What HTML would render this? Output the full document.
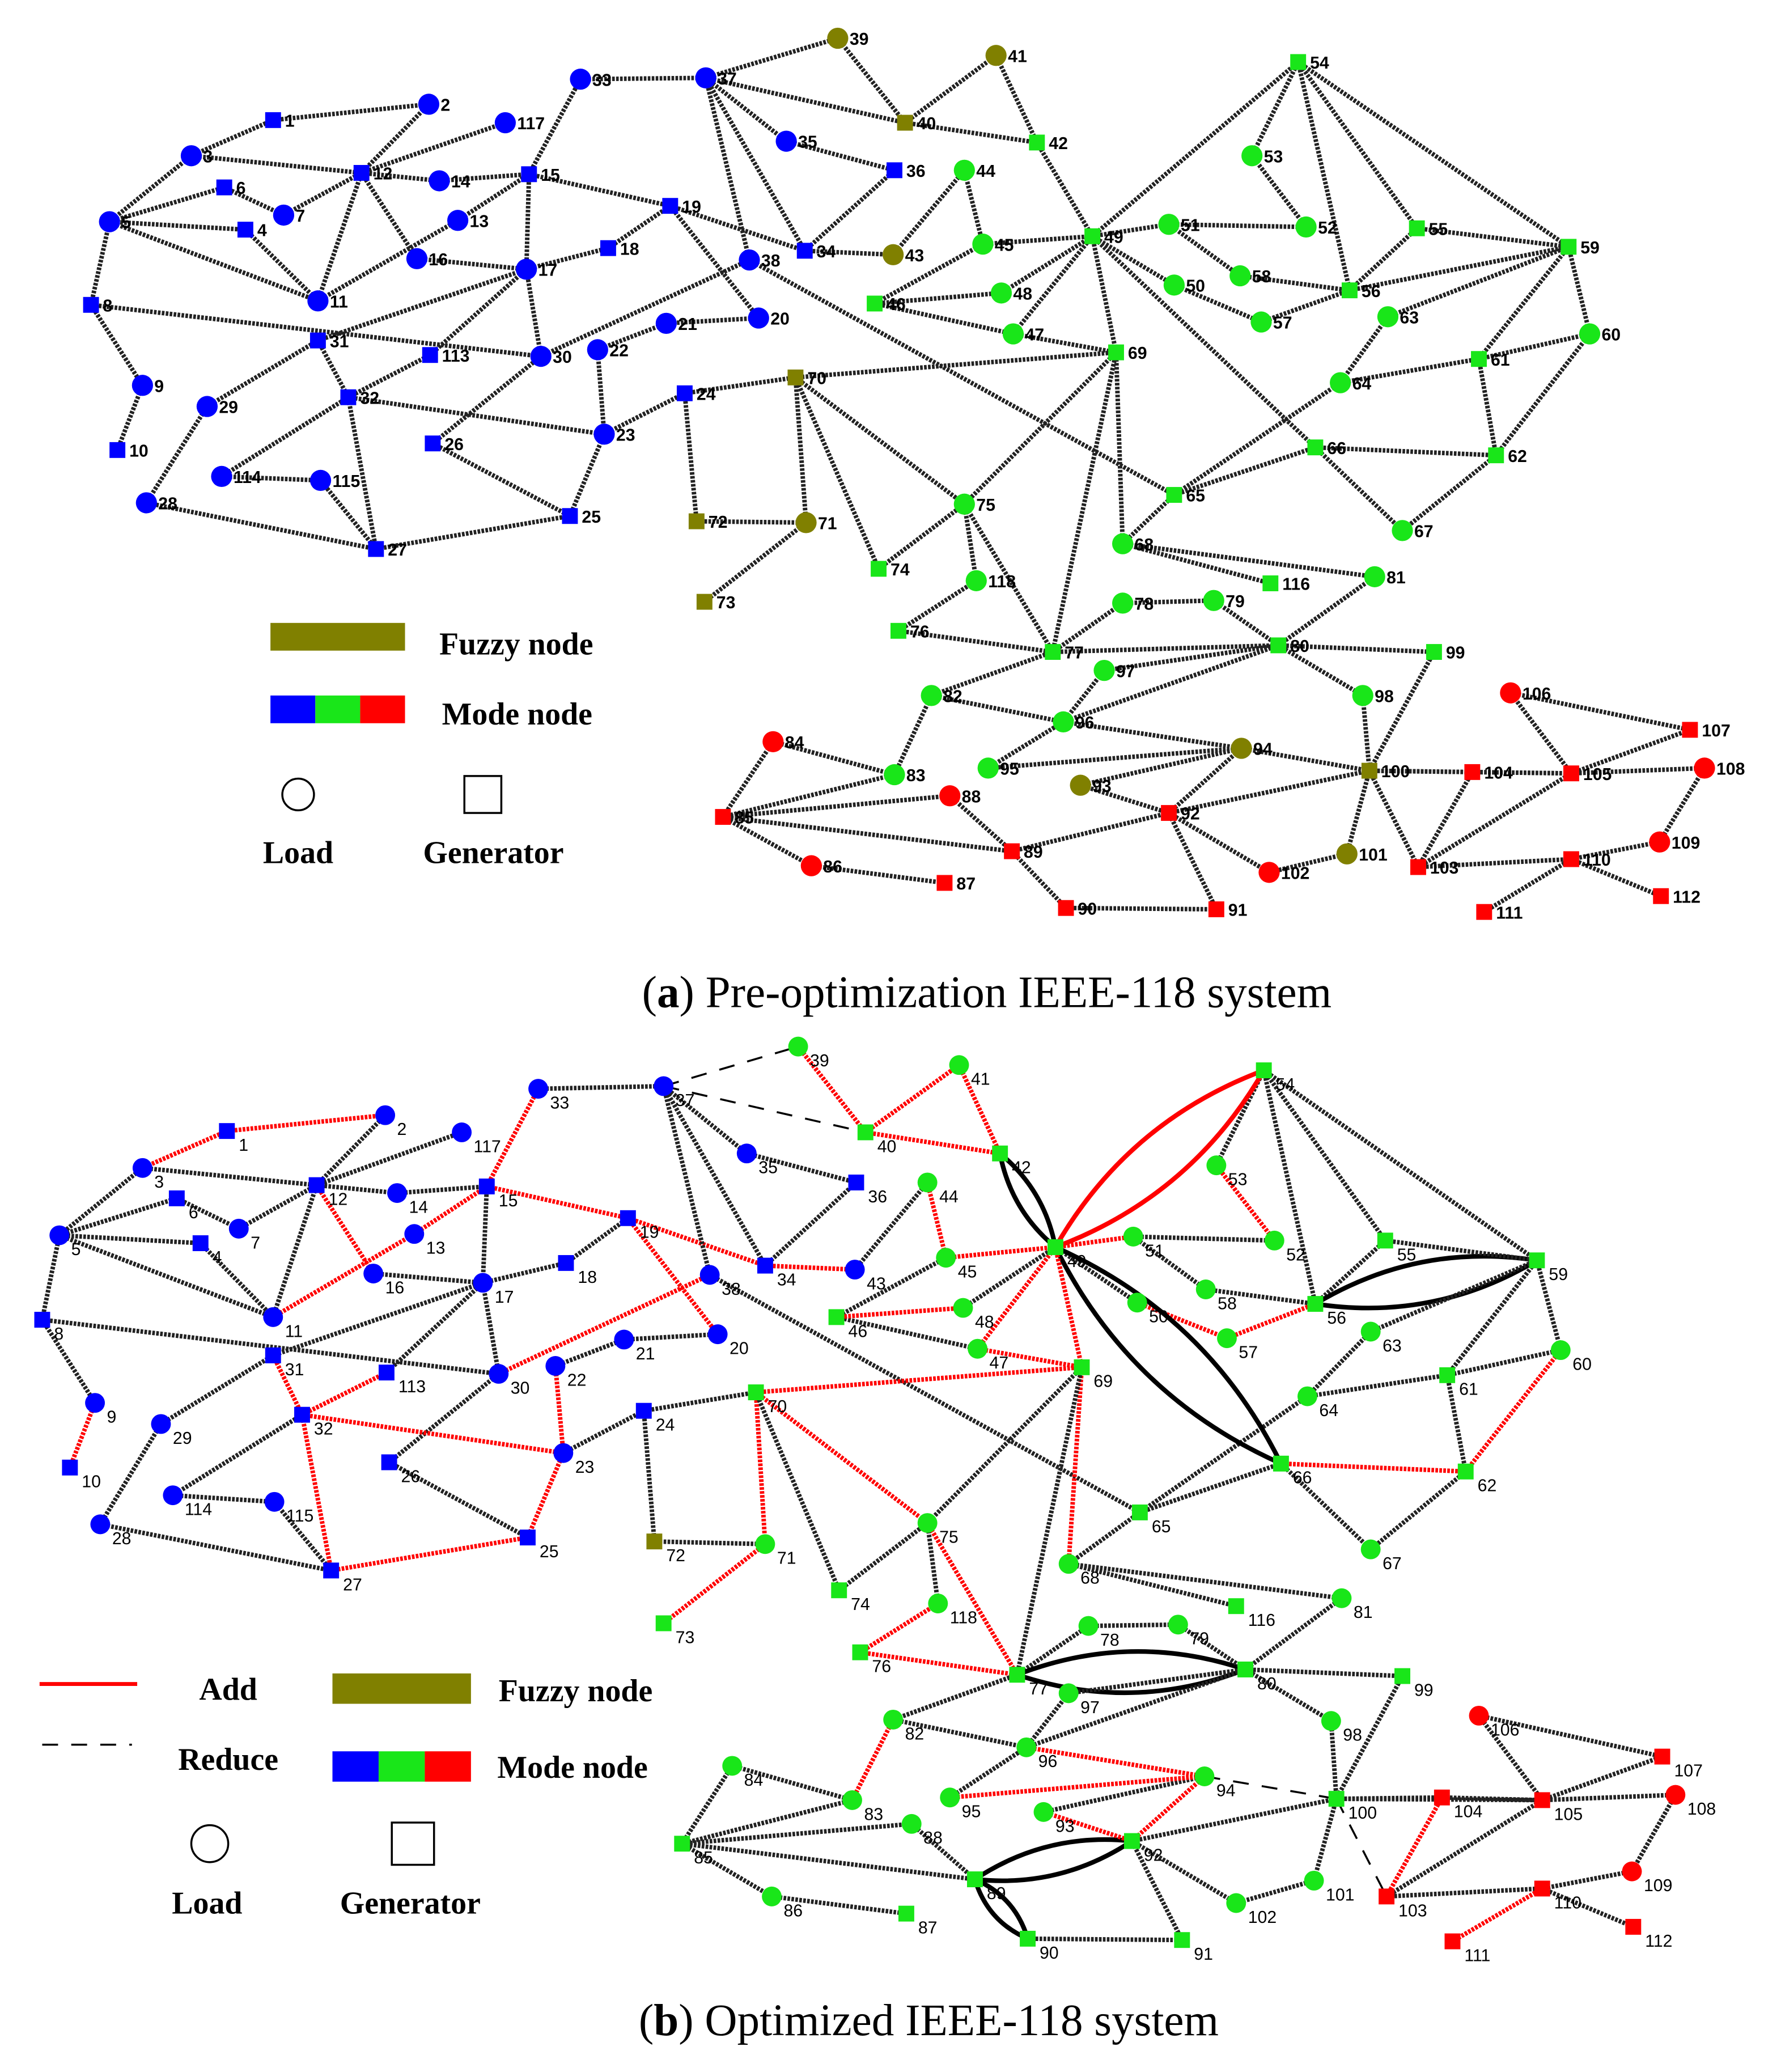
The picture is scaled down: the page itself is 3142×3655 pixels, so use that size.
<!DOCTYPE html>
<html><head><meta charset="utf-8"><style>
html,body{margin:0;padding:0;background:#fff;width:3142px;height:3655px;overflow:hidden}
svg{display:block}
text{font-family:"Liberation Sans",sans-serif}
.a{font-size:13px;font-weight:bold}
.b{font-size:13px}
.lg{font-family:"Liberation Serif",serif;font-size:24px;font-weight:bold}
.cap{font-family:"Liberation Serif",serif;font-size:34px}
</style></head><body>
<svg id="S" width="3142" height="3655" viewBox="0 0 1350 1570" preserveAspectRatio="none" xmlns="http://www.w3.org/2000/svg">
<g id="EA"></g><g id="EB"></g><g id="NA"></g><g id="NB"></g>
<g id="TA">
<text class="a sB" x="207" y="91">1</text><text class="a cB" x="325" y="79">2</text><text class="a cB" x="145" y="118">3</text><text class="a sB" x="186" y="174">4</text><text class="a cB" x="83" y="168">5</text><text class="a sB" x="170" y="142">6</text><text class="a cB" x="215" y="163">7</text><text class="a sB" x="69" y="231">8</text><text class="a cB" x="108" y="292">9</text><text class="a sB" x="89" y="341">10</text><text class="a cB" x="241" y="228">11</text><text class="a sB" x="274" y="131">12</text><text class="a cB" x="347" y="167">13</text><text class="a cB" x="333" y="137">14</text><text class="a sB" x="401" y="132">15</text><text class="a cB" x="316" y="196">16</text><text class="a cB" x="399" y="204">17</text><text class="a sB" x="461" y="188">18</text><text class="a sB" x="508" y="156">19</text><text class="a cB" x="575" y="241">20</text><text class="a cB" x="505" y="245">21</text><text class="a cB" x="453" y="265">22</text><text class="a cB" x="458" y="329">23</text><text class="a sB" x="519" y="298">24</text><text class="a sB" x="432" y="391">25</text><text class="a sB" x="328" y="336">26</text><text class="a sB" x="285" y="416">27</text><text class="a cB" x="111" y="381">28</text><text class="a cB" x="157" y="308">29</text><text class="a cB" x="410" y="270">30</text><text class="a sB" x="241" y="258">31</text><text class="a sB" x="264" y="301">32</text><text class="a cB" x="440" y="60">33</text><text class="a sB" x="610" y="190">34</text><text class="a cB" x="596" y="107">35</text><text class="a sB" x="678" y="129">36</text><text class="a cB" x="535" y="59">37</text><text class="a cB" x="568" y="197">38</text><text class="a cO" x="635" y="29">39</text><text class="a sO" x="686" y="93">40</text><text class="a cO" x="755" y="42">41</text><text class="a sG" x="786" y="108">42</text><text class="a cO" x="677" y="193">43</text><text class="a cG" x="731" y="129">44</text><text class="a cG" x="745" y="185">45</text><text class="a sG" x="663" y="230">46</text><text class="a cG" x="768" y="253">47</text><text class="a cG" x="759" y="222">48</text><text class="a sG" x="828" y="179">49</text><text class="a cG" x="890" y="216">50</text><text class="a cG" x="886" y="170">51</text><text class="a cG" x="990" y="172">52</text><text class="a cG" x="949" y="118">53</text><text class="a sG" x="984" y="47">54</text><text class="a sG" x="1074" y="173">55</text><text class="a sG" x="1023" y="220">56</text><text class="a cG" x="956" y="244">57</text><text class="a cG" x="940" y="209">58</text><text class="a sG" x="1189" y="187">59</text><text class="a cG" x="1205" y="253">60</text><text class="a sG" x="1121" y="272">61</text><text class="a sG" x="1134" y="345">62</text><text class="a cG" x="1052" y="240">63</text><text class="a cG" x="1016" y="290">64</text><text class="a sG" x="890" y="375">65</text><text class="a sG" x="997" y="339">66</text><text class="a cG" x="1063" y="402">67</text><text class="a cG" x="851" y="412">68</text><text class="a sG" x="846" y="267">69</text><text class="a sO" x="603" y="286">70</text><text class="a cO" x="611" y="396">71</text><text class="a sO" x="528" y="395">72</text><text class="a sO" x="534" y="456">73</text><text class="a sG" x="666" y="431">74</text><text class="a cG" x="731" y="382">75</text><text class="a sG" x="681" y="478">76</text><text class="a sG" x="798" y="494">77</text><text class="a cG" x="851" y="457">78</text><text class="a cG" x="920" y="455">79</text><text class="a sG" x="969" y="489">80</text><text class="a cG" x="1042" y="437">81</text><text class="a cG" x="706" y="527">82</text><text class="a cG" x="678" y="587">83</text><text class="a cR" x="586" y="562">84</text><text class="a sR" x="548" y="619">85</text><text class="a cR" x="615" y="656">86</text><text class="a sR" x="716" y="669">87</text><text class="a cR" x="720" y="603">88</text><text class="a sR" x="767" y="645">89</text><text class="a sR" x="808" y="688">90</text><text class="a sR" x="922" y="689">91</text><text class="a sR" x="886" y="616">92</text><text class="a cO" x="819" y="595">93</text><text class="a cO" x="941" y="567">94</text><text class="a cG" x="749" y="582">95</text><text class="a cG" x="806" y="547">96</text><text class="a cG" x="837" y="508">97</text><text class="a cG" x="1033" y="527">98</text><text class="a sG" x="1087" y="494">99</text><text class="a sO" x="1038" y="584">100</text><text class="a cO" x="1021" y="647">101</text><text class="a cR" x="962" y="661">102</text><text class="a sR" x="1075" y="657">103</text><text class="a sR" x="1116" y="585">104</text><text class="a sR" x="1191" y="586">105</text><text class="a cR" x="1145" y="525">106</text><text class="a sR" x="1281" y="553">107</text><text class="a cR" x="1292" y="582">108</text><text class="a cR" x="1258" y="638">109</text><text class="a sR" x="1191" y="651">110</text><text class="a sR" x="1125" y="691">111</text><text class="a sR" x="1259" y="679">112</text><text class="a sB" x="326" y="269">113</text><text class="a cB" x="168" y="361">114</text><text class="a cB" x="243" y="364">115</text><text class="a sG" x="963" y="442">116</text><text class="a cB" x="383" y="93">117</text><text class="a cG" x="740" y="440">118</text>
</g>
<g id="TB">
<text class="b sB" x="172" y="857">1</text><text class="b cB" x="292" y="845">2</text><text class="b cB" x="108" y="885">3</text><text class="b sB" x="152" y="942">4</text><text class="b cB" x="45" y="936">5</text><text class="b sB" x="134" y="908">6</text><text class="b cB" x="181" y="931">7</text><text class="b sB" x="32" y="1000">8</text><text class="b cB" x="72" y="1063">9</text><text class="b sB" x="53" y="1112">10</text><text class="b cB" x="207" y="998">11</text><text class="b sB" x="240" y="898">12</text><text class="b cB" x="314" y="935">13</text><text class="b cB" x="301" y="904">14</text><text class="b sB" x="369" y="899">15</text><text class="b cB" x="283" y="965">16</text><text class="b cB" x="366" y="972">17</text><text class="b sB" x="429" y="957">18</text><text class="b sB" x="476" y="923">19</text><text class="b cB" x="544" y="1011">20</text><text class="b cB" x="473" y="1015">21</text><text class="b cB" x="421" y="1035">22</text><text class="b cB" x="427" y="1101">23</text><text class="b sB" x="488" y="1069">24</text><text class="b sB" x="400" y="1165">25</text><text class="b sB" x="295" y="1108">26</text><text class="b sB" x="251" y="1190">27</text><text class="b cB" x="76" y="1155">28</text><text class="b cB" x="122" y="1079">29</text><text class="b cB" x="378" y="1041">30</text><text class="b sB" x="207" y="1027">31</text><text class="b sB" x="229" y="1072">32</text><text class="b cB" x="408" y="825">33</text><text class="b sB" x="580" y="959">34</text><text class="b cB" x="566" y="874">35</text><text class="b sB" x="649" y="896">36</text><text class="b cB" x="503" y="823">37</text><text class="b cB" x="538" y="966">38</text><text class="b cG" x="605" y="793">39</text><text class="b sG" x="656" y="858">40</text><text class="b cG" x="727" y="807">41</text><text class="b sG" x="758" y="874">42</text><text class="b cB" x="648" y="962">43</text><text class="b cG" x="703" y="896">44</text><text class="b cG" x="717" y="953">45</text><text class="b sG" x="634" y="998">46</text><text class="b cG" x="741" y="1022">47</text><text class="b cG" x="730" y="991">48</text><text class="b sG" x="800" y="945">49</text><text class="b cG" x="862" y="987">50</text><text class="b cG" x="859" y="937">51</text><text class="b cG" x="966" y="940">52</text><text class="b cG" x="922" y="883">53</text><text class="b sG" x="958" y="811">54</text><text class="b sG" x="1050" y="940">55</text><text class="b sG" x="997" y="988">56</text><text class="b cG" x="930" y="1014">57</text><text class="b cG" x="914" y="977">58</text><text class="b sG" x="1165" y="955">59</text><text class="b cG" x="1183" y="1023">60</text><text class="b sG" x="1097" y="1042">61</text><text class="b sG" x="1111" y="1115">62</text><text class="b cG" x="1039" y="1009">63</text><text class="b cG" x="991" y="1058">64</text><text class="b sG" x="864" y="1146">65</text><text class="b sG" x="971" y="1109">66</text><text class="b cG" x="1039" y="1174">67</text><text class="b cG" x="810" y="1185">68</text><text class="b sG" x="820" y="1036">69</text><text class="b sG" x="573" y="1055">70</text><text class="b cG" x="580" y="1170">71</text><text class="b sO" x="496" y="1168">72</text><text class="b sG" x="503" y="1230">73</text><text class="b sG" x="636" y="1205">74</text><text class="b cG" x="703" y="1154">75</text><text class="b sG" x="652" y="1252">76</text><text class="b sG" x="771" y="1269">77</text><text class="b cG" x="825" y="1232">78</text><text class="b cG" x="893" y="1231">79</text><text class="b sG" x="944" y="1265">80</text><text class="b cG" x="1017" y="1211">81</text><text class="b cG" x="677" y="1303">82</text><text class="b cG" x="646" y="1364">83</text><text class="b cG" x="555" y="1338">84</text><text class="b sG" x="517" y="1397">85</text><text class="b cG" x="585" y="1437">86</text><text class="b sG" x="687" y="1450">87</text><text class="b cG" x="691" y="1382">88</text><text class="b sG" x="739" y="1424">89</text><text class="b sG" x="779" y="1469">90</text><text class="b sG" x="896" y="1470">91</text><text class="b sG" x="858" y="1395">92</text><text class="b cG" x="791" y="1373">93</text><text class="b cG" x="913" y="1346">94</text><text class="b cG" x="720" y="1362">95</text><text class="b cG" x="778" y="1324">96</text><text class="b cG" x="810" y="1283">97</text><text class="b cG" x="1009" y="1304">98</text><text class="b sG" x="1063" y="1270">99</text><text class="b sG" x="1013" y="1363">100</text><text class="b cG" x="996" y="1425">101</text><text class="b cG" x="937" y="1442">102</text><text class="b sR" x="1051" y="1437">103</text><text class="b sR" x="1093" y="1362">104</text><text class="b sR" x="1169" y="1364">105</text><text class="b cR" x="1121" y="1300">106</text><text class="b sR" x="1260" y="1331">107</text><text class="b cR" x="1270" y="1360">108</text><text class="b cR" x="1237" y="1418">109</text><text class="b sR" x="1169" y="1431">110</text><text class="b sR" x="1101" y="1471">111</text><text class="b sR" x="1238" y="1460">112</text><text class="b sB" x="293" y="1040">113</text><text class="b cB" x="131" y="1133">114</text><text class="b cB" x="208" y="1138">115</text><text class="b sG" x="937" y="1217">116</text><text class="b cB" x="350" y="858">117</text><text class="b cG" x="711" y="1215">118</text>
</g>
<rect x="205" y="472" width="102" height="21" fill="#808000"/>
<text class="lg" x="333" y="496">Fuzzy node</text>
<rect x="205" y="527" width="34" height="21" fill="#0000ff"/><rect x="239" y="527" width="34" height="21" fill="#19e619"/><rect x="273" y="527" width="34" height="21" fill="#ff0000"/>
<text class="lg" x="335" y="549">Mode node</text>
<circle cx="226" cy="602" r="12" fill="none" stroke="#000" stroke-width="1.5"/>
<rect x="352" y="588" width="28" height="28" fill="none" stroke="#000" stroke-width="1.5"/>
<text class="lg" x="226" y="654" text-anchor="middle">Load</text>
<text class="lg" x="374" y="654" text-anchor="middle">Generator</text>
<text class="cap" x="748" y="763" text-anchor="middle">(<tspan font-weight="bold">a</tspan>) Pre-optimization IEEE-118 system</text>
<line x1="30" y1="1276" x2="104" y2="1276" stroke="#ff0000" stroke-width="3"/>
<text class="lg" x="173" y="1288" text-anchor="middle">Add</text>
<line x1="32" y1="1322" x2="100" y2="1322" stroke="#000" stroke-width="1.5" stroke-dasharray="12 10"/>
<text class="lg" x="173" y="1341" text-anchor="middle">Reduce</text>
<rect x="252" y="1268" width="105" height="23" fill="#808000"/>
<text class="lg" x="378" y="1289">Fuzzy node</text>
<rect x="252" y="1327" width="35" height="23" fill="#0000ff"/><rect x="287" y="1327" width="35" height="23" fill="#19e619"/><rect x="322" y="1327" width="35" height="23" fill="#ff0000"/>
<text class="lg" x="377" y="1347">Mode node</text>
<circle cx="159" cy="1397" r="14" fill="none" stroke="#000" stroke-width="1.5"/>
<rect x="297" y="1381" width="32" height="32" fill="none" stroke="#000" stroke-width="1.5"/>
<text class="lg" x="157" y="1450" text-anchor="middle">Load</text>
<text class="lg" x="311" y="1450" text-anchor="middle">Generator</text>
<text class="cap" x="704" y="1542" text-anchor="middle">(<tspan font-weight="bold">b</tspan>) Optimized IEEE-118 system</text>
</svg>
<script>
var NS="http://www.w3.org/2000/svg";
var COL={B:"#0000ff",G:"#19e619",R:"#ff0000",O:"#808000"};
var E="1-2 1-3 4-5 3-5 5-6 6-7 8-9 8-5 9-10 4-11 5-11 11-12 2-12 3-12 7-12 11-13 12-14 13-15 14-15 12-16 15-17 16-17 17-18 18-19 19-20 15-19 20-21 21-22 22-23 23-24 23-25 26-25 25-27 27-28 28-29 30-17 8-30 26-30 17-31 29-31 23-32 31-32 27-32 15-33 19-34 35-36 35-37 33-37 34-36 34-37 38-37 37-39 37-40 30-38 39-40 40-41 40-42 41-42 43-44 34-43 44-45 45-46 46-47 46-48 47-49 42-49 45-49 48-49 49-50 49-51 51-52 52-53 53-54 49-54 54-55 54-56 55-56 56-57 50-57 56-58 51-58 54-59 56-59 55-59 59-60 59-61 60-61 60-62 61-62 63-59 63-64 64-61 38-65 64-65 49-66 62-66 62-67 65-66 66-67 65-68 47-69 49-69 68-69 69-70 24-70 70-71 24-72 71-72 71-73 70-74 70-75 69-75 74-75 76-77 69-77 75-77 77-78 78-79 77-80 79-80 68-81 81-80 77-82 82-83 83-84 83-85 84-85 85-86 86-87 85-88 85-89 88-89 89-90 90-91 89-92 91-92 92-93 92-94 93-94 94-95 80-96 82-96 94-96 80-97 80-98 80-99 92-100 94-100 95-96 96-97 98-100 99-100 100-101 92-102 101-102 100-103 100-104 103-104 103-105 100-105 104-105 105-106 105-107 105-108 106-107 108-109 103-110 109-110 110-111 110-112 17-113 32-113 32-114 27-115 114-115 68-116 12-117 75-118 76-118".split(" ");
var RED=" 1-2 1-3 9-10 12-16 11-13 13-15 15-33 15-19 19-20 19-34 17-30 30-38 22-23 23-25 25-27 27-32 31-32 23-32 32-113 39-40 40-41 41-42 40-42 44-45 46-48 47-49 47-69 49-51 52-53 56-57 50-57 70-71 71-73 70-75 69-70 68-69 75-77 76-118 76-77 80-81 82-83 92-93 94-95 92-94 94-96 103-104 110-111 60-62 62-66 34-43 45-49 49-69 ";
var THICK=" 42-49 49-66 56-59 77-80 89-92 89-90 ";
var DASH=" 37-39 37-40 94-100 100-103 ";
function el(t,a,p){var e=document.createElementNS(NS,t);for(var k in a)e.setAttribute(k,a[k]);p.appendChild(e);return e;}
function build(tg,eg,ng,isB){
 var P={};var ts=document.getElementById(tg).getElementsByTagName("text");
 for(var i=0;i<ts.length;i++){var t=ts[i];var x=+t.getAttribute("x"),y=+t.getAttribute("y");var c=t.getAttribute("class").split(" ")[1];P[t.textContent]=[x,y];
  var f=COL[c[1]];var g=document.getElementById(ng);
  if(c[0]=="c")el("circle",{cx:x,cy:y,r:isB?7.5:8,fill:f},g);else el("rect",{x:x-6,y:y-6,width:12,height:12,fill:f},g);
  if(isB){t.setAttribute("x",x+9);t.setAttribute("y",y+15);}else{t.setAttribute("x",x+9);t.setAttribute("y",y+5);}}
 var g=document.getElementById(eg);var done={};
 E.forEach(function(s){var ab=s.split("-");var A=P[ab[0]],B=P[ab[1]];if(!A||!B)return;
  if(!isB){el("line",{x1:A[0],y1:A[1],x2:B[0],y2:B[1],stroke:"#222","stroke-width":3.4,"stroke-dasharray":"2 1"},g);return;}
  var k=" "+s+" ";
  if(THICK.indexOf(k)>=0||s=="49-54"){if(done[s])return;done[s]=1;
   var dx=B[0]-A[0],dy=B[1]-A[1],L=Math.sqrt(dx*dx+dy*dy),nx=-dy/L,ny=dx/L,o=Math.max(0.18*L,14);
   var mx=(A[0]+B[0])/2,my=(A[1]+B[1])/2;var col=s=="49-54"?"#ff0000":"#000";
   [1,-1].forEach(function(sg){el("path",{d:"M"+A[0]+" "+A[1]+" Q"+(mx+sg*o*nx)+" "+(my+sg*o*ny)+" "+B[0]+" "+B[1],fill:"none",stroke:col,"stroke-width":3.5},g);});return;}
  if(DASH.indexOf(k)>=0){el("line",{x1:A[0],y1:A[1],x2:B[0],y2:B[1],stroke:"#000","stroke-width":1.5,"stroke-dasharray":"12 10"},g);return;}
  var col=RED.indexOf(k)>=0?"#f00":"#222";
  el("line",{x1:A[0],y1:A[1],x2:B[0],y2:B[1],stroke:col,"stroke-width":3.4,"stroke-dasharray":"2 1"},g);});
}
build("TA","EA","NA",false);build("TB","EB","NB",true);
</script>
</body></html>
